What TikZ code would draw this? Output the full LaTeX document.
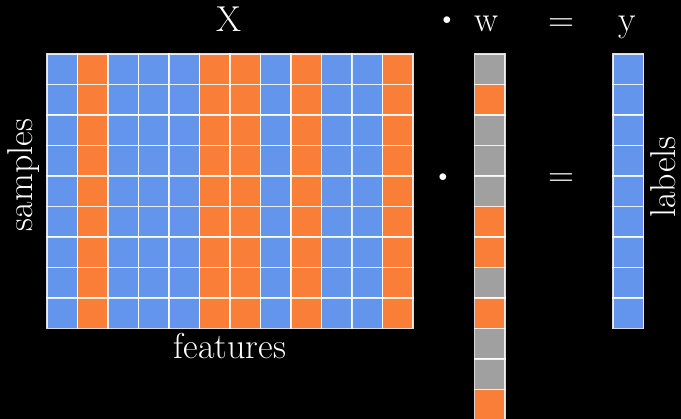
\documentclass[tikz,border=0pt]{standalone}
\usepackage{tikz}
\definecolor{cellblue}{HTML}{6495ED}
\definecolor{cellorange}{HTML}{F97F38}
\definecolor{cellgray}{HTML}{A0A0A0}
\tikzset{
  cell/.style={draw=white, draw opacity=0.85, line width=1.1pt},
  lbl/.style={text=white, font=\fontsize{36}{42}\selectfont, inner sep=0pt},
  dotsym/.style={text=white, font=\fontsize{19}{22}\selectfont, inner sep=0pt},
}
\begin{document}
\begin{tikzpicture}[x=1pt,y=-1pt]
  \fill[black] (0,0) rectangle (681,419);
  \useasboundingbox (0,0) rectangle (681,419);
  \def\cs{30.5}
  % data matrix X: 12 feature columns, 9 sample rows
  \foreach \col [count=\i from 0] in {cellblue,cellorange,cellblue,cellblue,cellblue,cellorange,cellorange,cellblue,cellorange,cellblue,cellblue,cellorange}{
    \foreach \j in {0,...,8}{
      \filldraw[cell, fill=\col] ({47+\i*\cs},{54+\j*\cs}) rectangle +(\cs,\cs);
    }
  }
  % weight vector w
  \foreach \col [count=\j from 0] in {cellgray,cellorange,cellgray,cellgray,cellgray,cellorange,cellorange,cellgray,cellorange,cellgray,cellgray,cellorange}{
    \filldraw[cell, fill=\col] (474.5,{54+\j*\cs}) rectangle +(\cs,\cs);
  }
  % label vector y
  \foreach \j in {0,...,8}{
    \filldraw[cell, fill=cellblue] (613,{54+\j*\cs}) rectangle +(\cs,\cs);
  }
  % top row of symbols
  \node[lbl, anchor=base] (tX) at (229,32) {X};
  \node[dotsym] (tdot) at (447,21) {$\bullet$};
  \node[lbl, anchor=base] (tw) at (487,32) {w};
  \node[lbl, anchor=base] (teq) at (561,32) {=};
  \node[lbl, anchor=base] (ty) at (627,32) {y};
  % middle row of symbols
  \node[dotsym] (mdot) at (443,178) {$\bullet$};
  \node[lbl, anchor=base] (meq) at (561,187) {=};
  % axis captions
  \node[lbl, anchor=base] (feat) at (230,359) {features};
  \node[lbl, anchor=base, rotate=90] (samp) at (32,175) {samples};
  \node[lbl, anchor=base, rotate=90] (labs) at (675,177) {labels};
\end{tikzpicture}
\end{document}
